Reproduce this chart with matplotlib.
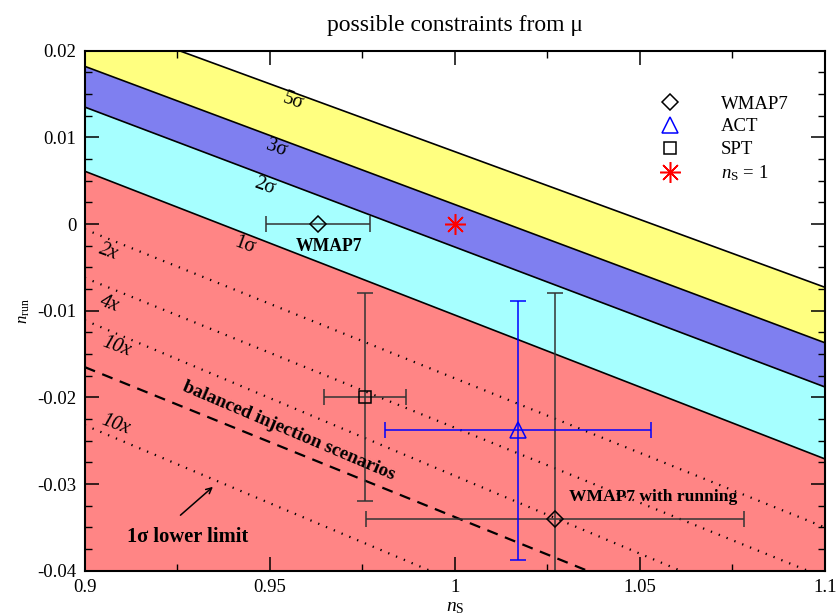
import numpy as np
import matplotlib as mpl
mpl.use('Agg')
import matplotlib.pyplot as plt
from matplotlib.lines import Line2D

plt.rcParams['font.family'] = ['Liberation Serif', 'DejaVu Serif']
plt.rcParams['mathtext.fontset'] = 'custom'
plt.rcParams['mathtext.rm'] = 'Liberation Serif'
plt.rcParams['mathtext.it'] = 'Liberation Serif:italic'

# --- data: boundaries given at ns = 0.9 and ns = 1.1 ---
ns_ends = np.array([0.9, 1.1])
line_5sig = [0.0240, -0.0073]
line_3sig = [0.0182, -0.0137]
line_2sig = [0.0135, -0.0188]
line_1sig = [0.0061, -0.0271]

# dotted factor lines and balanced injection (dashed)
dot_2x = [-0.0006, -0.0350]
dot_4x = [-0.0062, -0.0408]
dot_10x_a = [-0.0111, -0.0470]
dot_10x_b = [-0.0232, -0.0592]
balanced = [-0.0165, -0.0511]

# measurements: ns, nrun, ns error, nrun error
wmap7 = (0.963, 0.0, 0.014, 0.0)
wmap7_run = (1.027, -0.034, 0.051, 0.026)
spt = (0.9757, -0.020, 0.011, 0.012)
act = (1.017, -0.0238, 0.036, 0.0149)
ns_one = (1.0, 0.0)

xticks = [0.9, 0.95, 1.0, 1.05, 1.1]
xticklabels = ['0.9', '0.95', '1', '1.05', '1.1']
yticks = [-0.04, -0.03, -0.02, -0.01, 0.0, 0.01, 0.02]
yticklabels = ['-0.04', '-0.03', '-0.02', '-0.01', '0', '0.01', '0.02']

fig = plt.figure(figsize=(8.37, 6.16), dpi=100)
ax = fig.add_axes([0.1012, 0.0734, 0.8845, 0.8443])

# bands
ax.fill_between(ns_ends, [-0.1, -0.1], line_1sig, color='#ff8585', lw=0)
ax.fill_between(ns_ends, line_1sig, line_2sig, color='#a6ffff', lw=0)
ax.fill_between(ns_ends, line_2sig, line_3sig, color='#7f7ff0', lw=0)
ax.fill_between(ns_ends, line_3sig, line_5sig, color='#ffff80', lw=0)
for l in (line_1sig, line_2sig, line_3sig, line_5sig):
    ax.plot(ns_ends, l, color='black', lw=1.2)

for l in (dot_2x, dot_4x, dot_10x_a, dot_10x_b):
    ax.plot(ns_ends, l, color='black', lw=1.6, ls=(0, (0.6, 3.2)))
ax.plot(ns_ends, balanced, color='black', lw=1.6, ls=(0, (5, 3.5)))

# error bars
eb = dict(capsize=6, elinewidth=1.1, capthick=1.1, mew=1.1, mfc='none')
ax.errorbar(wmap7[0], wmap7[1], xerr=wmap7[2], fmt='D', ms=8, color='#333333',
            mec='black', **eb)
ax.errorbar(wmap7_run[0], wmap7_run[1], xerr=wmap7_run[2], yerr=wmap7_run[3],
            fmt='D', ms=8, color='#333333', mec='black', **eb)
ax.errorbar(act[0], act[1], xerr=act[2], yerr=act[3], fmt='^', ms=11,
            color='#0000ff', **eb)
ax.errorbar(spt[0], spt[1], xerr=spt[2], yerr=spt[3], fmt='s', ms=9,
            color='#333333', mec='black', **eb)
ax.plot(ns_one[0], ns_one[1], marker=(8, 2, 0), ms=15, color='red', mew=1.1,
        ls='none')

handles = [
    Line2D([], [], ls='none', marker='D', ms=8, mfc='none', mec='black', mew=1.1),
    Line2D([], [], ls='none', marker='^', ms=11, mfc='none', mec='#0000ff', mew=1.1),
    Line2D([], [], ls='none', marker='s', ms=9, mfc='none', mec='black', mew=1.1),
    Line2D([], [], ls='none', marker=(8, 2, 0), ms=15, color='red', mew=1.1),
]
labels = ['WMAP7', 'ACT', 'SPT', r'$n_{\mathrm{S}}$ = 1']
ax.legend(handles, labels, loc='upper left', bbox_to_anchor=(0.758, 0.932),
          frameon=False, fontsize=13.5, handletextpad=1.9, labelspacing=0.3,
          handlelength=1.6, borderpad=0, numpoints=1)

# labels on band lines
rot = -20
ax.text(0.9563, 0.0141, '5σ', fontsize=14.5, rotation=rot, ha='center', va='center')
ax.text(0.9518, 0.0087, '3σ', fontsize=14.5, rotation=rot, ha='center', va='center')
ax.text(0.9487, 0.0043, '2σ', fontsize=14.5, rotation=rot, ha='center', va='center')
ax.text(0.9433, -0.0024, '1σ', fontsize=14.5, rotation=rot, ha='center', va='center')
for xx, yy, s in [(0.9064, -0.0032, '2x'), (0.9068, -0.0092, '4x'),
                  (0.9086, -0.0142, '10x'), (0.9082, -0.0232, '10x')]:
    ax.text(xx, yy, s, fontsize=14.5, style='italic', rotation=rot,
            ha='center', va='center')

ax.text(0.9661, -0.0026, 'WMAP7', fontsize=12.7, weight='bold', ha='center', va='center')
ax.text(1.0536, -0.0315, 'WMAP7 with running', fontsize=12.6, weight='bold',
        ha='center', va='center')
ax.text(0.9552, -0.0239, 'balanced injection scenarios', fontsize=13.8,
        weight='bold', rotation=-23, ha='center', va='center')
ax.text(0.9278, -0.0361, '1σ lower limit', fontsize=14.8, weight='bold',
        ha='center', va='center')
ax.annotate('', xy=(0.9352, -0.0301), xytext=(0.9253, -0.0338),
            arrowprops=dict(arrowstyle='->', color='black', lw=1.1))

ax.set_xlim(0.9, 1.1)
ax.set_ylim(-0.04, 0.02)
ax.set_xticks(xticks)
ax.set_xticklabels(xticklabels)
ax.set_yticks(yticks)
ax.set_yticklabels(yticklabels)
ax.xaxis.set_minor_locator(mpl.ticker.MultipleLocator(0.025))
ax.yaxis.set_minor_locator(mpl.ticker.MultipleLocator(0.0025))
ax.tick_params(which='both', direction='in', top=True, right=True, labelsize=13.5)
ax.tick_params(which='major', length=10, width=1.1, pad=6)
ax.tick_params(which='minor', length=5, width=1.0)
for s in ax.spines.values():
    s.set_linewidth(1.5)

ax.set_xlabel(r'$n_{\mathrm{S}}$', fontsize=14, labelpad=2)
ax.set_ylabel(r'$n_{\mathrm{run}}$', fontsize=12, labelpad=4)
ax.set_title('possible constraints from μ', fontsize=17, pad=14)

fig.savefig('out.png', dpi=100)
